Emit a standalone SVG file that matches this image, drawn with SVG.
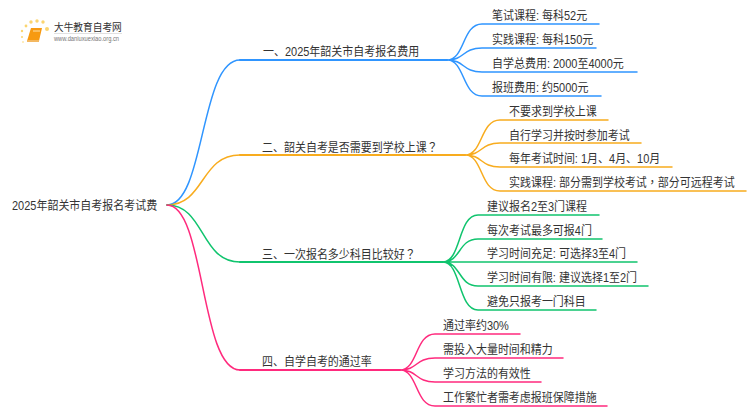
<svg xmlns="http://www.w3.org/2000/svg" width="750" height="410" viewBox="0 0 750 410">
<style>
text{font-family:"Liberation Sans","Noto Sans CJK SC",sans-serif;font-size:12px;fill:#333;transform-box:fill-box;transform-origin:left center;transform:translateY(.8px) scaleX(.915)}
.t{font-family:"Noto Sans CJK TC",sans-serif}
.c{fill:none;stroke-width:1.5;stroke-linecap:round}
.b{stroke:#2f95ff}.o{stroke:#f8ac1e}.g{stroke:#10c46e}.p{stroke:#ff2a7d}
.m{stroke-width:2}
</style>
<rect width="750" height="410" fill="#fff"/>
<g id="connectors">
<path class="c b" d="M167 205C205 205 200 60 240 60H447"/>
<path class="c o" d="M167 205C205 205 200 155 240 155H465"/>
<path class="c g" d="M167 205C205 205 200 262 240 262H443"/>
<path class="c p" d="M167 205C205 205 200 370 240 370H400"/>
<path class="c m b" d="M240 60H447"/>
<path class="c m o" d="M240 155H465"/>
<path class="c m g" d="M240 262H443"/>
<path class="c m p" d="M240 370H400"/>
<path class="c b" d="M447 60C465 60 462 24 482 24H599M447 60C465 60 462 48 482 48H596M447 60C465 60 462 72 482 72H637M447 60C465 60 462 96 482 96H601"/>
<path class="c o" d="M465 155C483 155 480 120 500 120H608M465 155C483 155 480 143 500 143H641M465 155C483 155 480 167 500 167H672M465 155C483 155 480 191 500 191H746"/>
<path class="c g" d="M443 262C461 262 458 215 478 215H599M443 262C461 262 458 239 478 239H602M443 262H637M443 262C461 262 458 286 478 286H648M443 262C461 262 458 310 478 310H596"/>
<path class="c p" d="M400 370C418 370 415 334 435 334H520M400 370C418 370 415 358 435 358H563M400 370C418 370 415 382 435 382H541M400 370C418 370 415 406 435 406H607"/>
</g>
<g id="logo">
<g fill="#fbd56f"><circle cx="47" cy="29" r="2"/><circle cx="43" cy="22" r="1.7"/><circle cx="37" cy="21" r="1.7"/><circle cx="31" cy="22" r="1.7"/><circle cx="26" cy="26" r="1.4"/><circle cx="22" cy="31" r="1.2"/><circle cx="22" cy="37" r="1"/><circle cx="23" cy="42" r="0.8"/></g>
<path d="M31 28H42L39 41H27Z" fill="#f79a12"/>
<path d="M27 41H39" stroke="#f4b860" stroke-width="2" fill="none"/>
<path d="M33 31H40" stroke="#fde2ac" stroke-width="1" fill="none"/>
<text x="54" y="30.500" style="font-size:10.600px">大牛教育自考网</text>
<path d="M54 33.500H122" stroke="#ccc" stroke-width="0.6" fill="none"/>
<text x="54" y="40.500" style="font-size:6.300px;fill:#777">www.daniuxuexiao.org.cn</text>
</g>
<g id="root"><text x="12" y="209">2025年韶关市自考报名考试费</text></g>
<g id="n1"><text x="263" y="55">一、2025年韶关市自考报名费用</text></g>
<g id="n2"><text x="262" y="151">二、韶关自考是否需要到学校上课<tspan class="t">？</tspan></text></g>
<g id="n3"><text x="262" y="258">三、一次报名多少科目比较好<tspan class="t">？</tspan></text></g>
<g id="n4"><text x="262" y="365">四、自学自考的通过率</text></g>
<g id="n1a"><text x="492" y="19">笔试课程: 每科52元</text></g>
<g id="n1b"><text x="492" y="43">实践课程: 每科150元</text></g>
<g id="n1c"><text x="492" y="67">自学总费用: 2000至4000元</text></g>
<g id="n1d"><text x="492" y="91">报班费用: 约5000元</text></g>
<g id="n2a"><text x="509" y="115">不要求到学校上课</text></g>
<g id="n2b"><text x="509" y="139">自行学习并按时参加考试</text></g>
<g id="n2c"><text x="509" y="162">每年考试时间: 1月、4月、10月</text></g>
<g id="n2d"><text x="509" y="186">实践课程: 部分需到学校考试<tspan class="t">，</tspan>部分可远程考试</text></g>
<g id="n3a"><text x="487" y="210">建议报名2至3门课程</text></g>
<g id="n3b"><text x="487" y="234">每次考试最多可报4门</text></g>
<g id="n3c"><text x="487" y="257">学习时间充足: 可选择3至4门</text></g>
<g id="n3d"><text x="487" y="281">学习时间有限: 建议选择1至2门</text></g>
<g id="n3e"><text x="487" y="305">避免只报考一门科目</text></g>
<g id="n4a"><text x="443" y="329">通过率约30%</text></g>
<g id="n4b"><text x="443" y="353">需投入大量时间和精力</text></g>
<g id="n4c"><text x="443" y="377">学习方法的有效性</text></g>
<g id="n4d"><text x="443" y="401">工作繁忙者需考虑报班保障措施</text></g>
</svg>
